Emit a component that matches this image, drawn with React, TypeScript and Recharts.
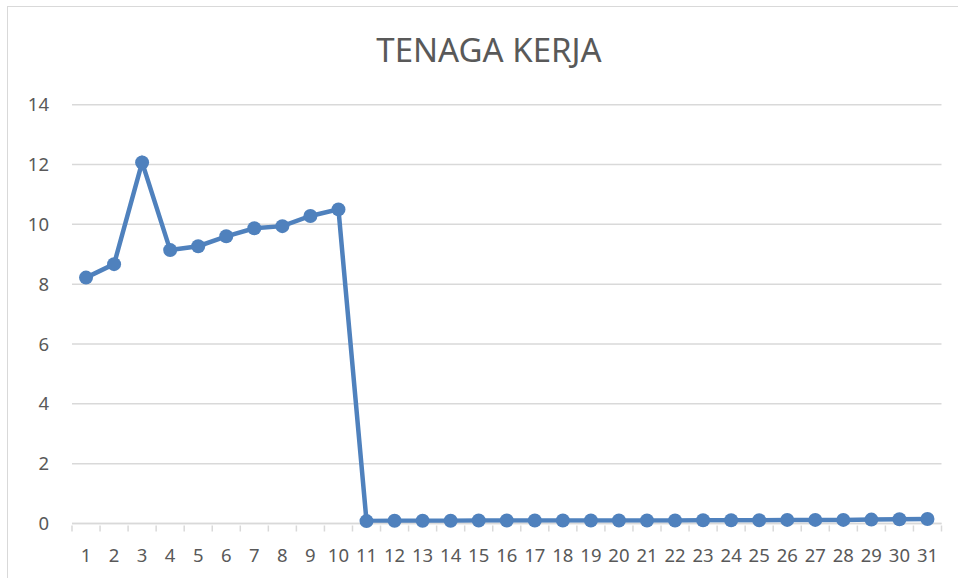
import React from "react"
import { LineChart, Line, XAxis, YAxis, CartesianGrid } from "recharts"

const days = Array.from({ length: 31 }, (_, i) => String(i + 1))
const tenagaKerja = [
  8.22, 8.67, 12.07, 9.14, 9.27, 9.6, 9.87, 9.94, 10.28, 10.5,
  0.08, 0.09, 0.09, 0.09, 0.1, 0.1, 0.1, 0.1, 0.1, 0.1,
  0.1, 0.1, 0.11, 0.11, 0.11, 0.12, 0.12, 0.12, 0.13, 0.14, 0.15,
]
const yTicks = [0, 2, 4, 6, 8, 10, 12, 14]

const data = days.map((d, i) => ({ day: d, value: tenagaKerja[i] }))

const GRAY = "#d9d9d9"
const TEXT = "#595959"
const BLUE = "#4f81bd"
const FONT = "'Noto Sans', 'Open Sans', sans-serif"

// half a category: the plot is 869.5px wide and holds 31 categories
const HALF = 869.5 / 62

function DayTick(props: any) {
  const { x, y, payload, index } = props
  return (
    <g>
      <line x1={x - HALF} x2={x - HALF} y1={y} y2={y + 6} stroke={GRAY} strokeWidth={1.5} />
      {index === days.length - 1 && (
        <line x1={x + HALF} x2={x + HALF} y1={y} y2={y + 6} stroke={GRAY} strokeWidth={1.5} />
      )}
      <text x={x} y={y + 36} textAnchor="middle" fill={TEXT} fontSize={18.5} fontFamily={FONT}>
        {payload.value}
      </text>
    </g>
  )
}

export default function App() {
  return (
    <div style={{ position: "absolute", left: 0, top: 0, width: 958, height: 578, overflow: "hidden", background: "#fff" }}>
      <div
        style={{
          position: "absolute", left: 7, top: 6, right: 0, bottom: 0,
          borderLeft: `1.5px solid ${GRAY}`, borderTop: `1.5px solid ${GRAY}`,
        }}
      />
      <div
        style={{
          position: "absolute", left: 0, width: 978, top: 28, textAlign: "center",
          fontFamily: FONT, fontSize: 33, color: TEXT, lineHeight: "44px",
        }}
      >
        TENAGA KERJA
      </div>
      <LineChart
        width={958}
        height={578}
        data={data}
        margin={{ top: 104.7, right: 16.5, bottom: 14.5, left: 0 }}
        style={{ position: "absolute", left: 0, top: 0 }}
      >
        <CartesianGrid vertical={false} stroke={GRAY} strokeWidth={1.5} />
        <XAxis
          dataKey="day"
          interval={0}
          padding={{ left: HALF, right: HALF }}
          height={40}
          tickSize={0}
          tickLine={false}
          axisLine={{ stroke: GRAY, strokeWidth: 1.5 }}
          tick={<DayTick />}
        />
        <YAxis
          domain={[0, 14]}
          ticks={yTicks}
          width={72}
          tickSize={0}
          tickMargin={23}
          tickLine={false}
          axisLine={false}
          tick={{ fill: TEXT, fontSize: 18.5, fontFamily: FONT }}
        />
        <Line
          type="linear"
          dataKey="value"
          stroke={BLUE}
          strokeWidth={4.5}
          dot={{ r: 7, fill: BLUE, stroke: "none" }}
          isAnimationActive={false}
        />
      </LineChart>
    </div>
  )
}
